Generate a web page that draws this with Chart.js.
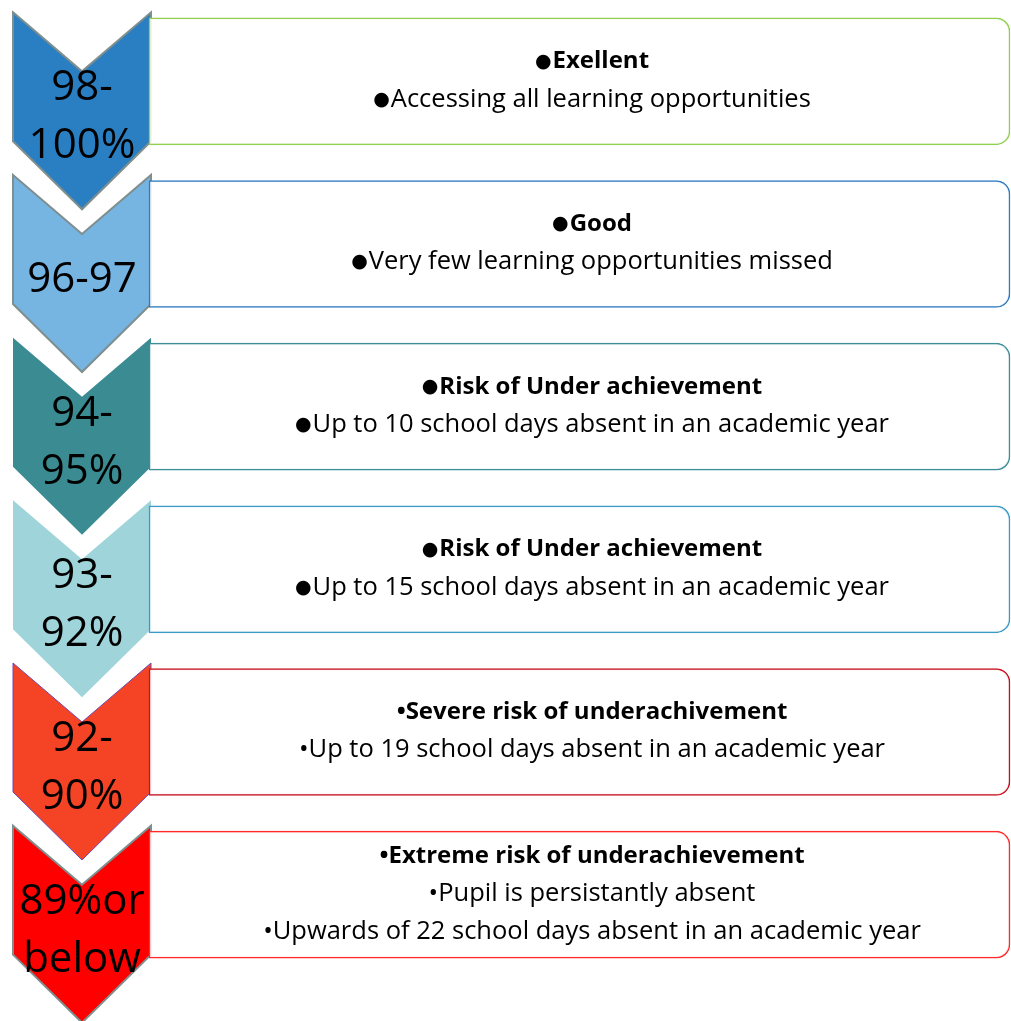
<!DOCTYPE html>
<html>
<head>
<meta charset="utf-8">
<script src="https://cdn.jsdelivr.net/npm/chart.js@4.4.1/dist/chart.umd.min.js"></script>
<style>
  html, body { margin: 0; padding: 0; background: #ffffff; }
  #wrap { width: 1011px; height: 1021px; position: relative; }
</style>
</head>
<body>
<div id="wrap"><canvas id="attendanceChart"></canvas></div>
<script>
// attendance bands, top to bottom
const bandLabels = [
    ['98-', '100%'],
    ['96-97'],
    ['94-', '95%'],
    ['93-', '92%'],
    ['92-', '90%'],
    ['89%or', 'below']
];
const bandTitles = [
    '●Exellent',
    '●Good',
    '●Risk of Under achievement',
    '●Risk of Under achievement',
    '•Severe risk of underachivement',
    '•Extreme risk of underachievement'
];
const bandDetails = [
    ['●Accessing all learning opportunities'],
    ['●Very few learning opportunities missed'],
    ['●Up to 10 school days absent in an academic year'],
    ['●Up to 15 school days absent in an academic year'],
    ['•Up to 19 school days absent in an academic year'],
    ['•Pupil is persistantly absent', '•Upwards of 22 school days absent in an academic year']
];

const chevronFill = ['#2A7FC2', '#76B4E2', '#3B8B93', '#9ED4DA', '#F44325', '#FF0000'];
const chevronEdge = ['#7F8E8E', '#7F8E8E', null, null, '#7048B0', '#7F8E8E'];
const boxEdge = ['#92D050', '#2E7BC0', '#3E8E98', '#3D9BC7', '#C8101E', '#FF2A2A'];

const BOX_LEFT = 149;
const BOX_RIGHT = 1010;
const FONT = "'Open Sans', 'DejaVu Sans', sans-serif";

// draws one text line centred on cx; a leading big dot is drawn smaller
function drawLine(ctx, text, cx, cy, bold, size) {
    const weight = bold ? 'bold ' : '';
    let bullet = '';
    let rest = text;
    if (text[0] === '●') {
        bullet = '●';
        rest = text.slice(1);
    }
    ctx.font = '19px ' + FONT;
    const bw = bullet ? ctx.measureText(bullet).width + 1 : 0;
    ctx.font = weight + size + 'px ' + FONT;
    const rw = ctx.measureText(rest).width;
    let x0 = cx - (bw + rw) / 2;
    ctx.textAlign = 'left';
    ctx.textBaseline = 'middle';
    if (bullet) {
        ctx.font = '19px ' + FONT;
        ctx.fillText(bullet, x0, cy);
        x0 += bw;
    }
    ctx.font = weight + size + 'px ' + FONT;
    ctx.fillText(rest, x0, cy);
}

const chevronPlugin = {
    id: 'chevrons',
    beforeDatasetsDraw(chart) {
        const ctx = chart.ctx;
        const x = chart.scales.x;
        const y = chart.scales.y;
        const left = x.getPixelForValue(13);
        const right = x.getPixelForValue(151);
        const mid = (left + right) / 2;
        bandLabels.forEach((lines, i) => {
            const top = y.getPixelForValue(i) - 69;
            ctx.save();
            ctx.beginPath();
            ctx.moveTo(left, top);
            ctx.lineTo(mid, top + 59);
            ctx.lineTo(right, top);
            ctx.lineTo(right, top + 129);
            ctx.lineTo(mid, top + 197);
            ctx.lineTo(left, top + 129);
            ctx.closePath();
            ctx.fillStyle = chevronFill[i];
            ctx.fill();
            if (chevronEdge[i]) {
                ctx.strokeStyle = chevronEdge[i];
                ctx.lineWidth = i === 4 ? 1 : 2;
                ctx.stroke();
            }
            ctx.fillStyle = '#000000';
            ctx.font = '42px ' + FONT;
            ctx.textAlign = 'center';
            ctx.textBaseline = 'middle';
            const cy = top + 105;
            lines.forEach((line, k) => {
                ctx.fillText(line, mid, cy + (k - (lines.length - 1) / 2) * 58);
            });
            ctx.restore();
        });
    },
    afterDatasetsDraw(chart) {
        const ctx = chart.ctx;
        const x = chart.scales.x;
        const y = chart.scales.y;
        const cx = x.getPixelForValue(592);
        bandTitles.forEach((title, i) => {
            const rows = [{ text: title, bold: true }].concat(
                bandDetails[i].map(t => ({ text: t, bold: false }))
            );
            const cy = y.getPixelForValue(i) - 1;
            ctx.save();
            ctx.fillStyle = '#000000';
            rows.forEach((r, k) => {
                drawLine(ctx, r.text, cx, cy + (k - (rows.length - 1) / 2) * 38,
                    r.bold, r.bold ? 24 : 25.5);
            });
            ctx.restore();
        });
    }
};

const ctx = document.getElementById('attendanceChart').getContext('2d');
const attendanceChart = new Chart(ctx, {
    type: 'bar',
    data: {
        labels: bandLabels.map(l => l.join(' ')),
        datasets: [{
            data: bandLabels.map(() => [BOX_LEFT, BOX_RIGHT]),
            backgroundColor: 'rgba(255, 255, 255, 0.9)',
            borderColor: boxEdge,
            borderWidth: 1.5,
            borderSkipped: false,
            borderRadius: { topLeft: 0, bottomLeft: 0, topRight: 14, bottomRight: 14 },
            barThickness: 127
        }]
    },
    options: {
        indexAxis: 'y',
        responsive: true,
        maintainAspectRatio: false,
        animation: false,
        layout: { padding: { top: -2, bottom: 45, left: 0, right: 0 } },
        plugins: {
            legend: { display: false },
            tooltip: { enabled: false }
        },
        scales: {
            x: { type: 'linear', min: 0, max: 1011, display: false },
            y: { display: false, offset: true }
        }
    },
    plugins: [chevronPlugin]
});
</script>
</body>
</html>
